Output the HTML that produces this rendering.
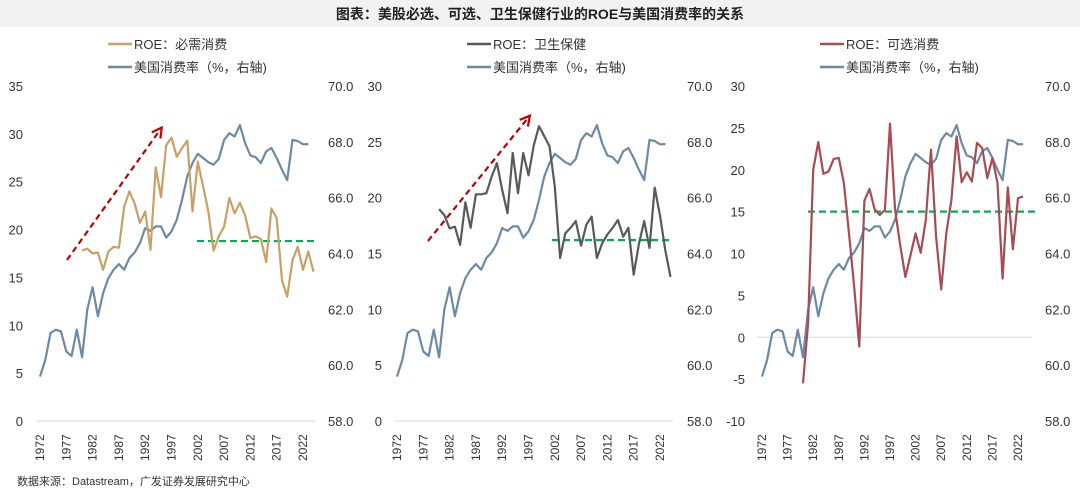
<!DOCTYPE html>
<html><head><meta charset="utf-8">
<style>
body{margin:0;background:#fff;width:1080px;height:489px;overflow:hidden;font-family:"Liberation Sans","Noto Sans CJK SC",sans-serif;}
svg text{font-family:"Liberation Sans","Noto Sans CJK SC",sans-serif;}
</style></head>
<body>
<svg id="c" width="1080" height="489" xmlns="http://www.w3.org/2000/svg">
<rect x="0" y="0" width="1080" height="27" fill="#f2f2f2"/>
<text x="540" y="19" text-anchor="middle" font-size="14" font-weight="bold" fill="#222">图表：美股必选、可选、卫生保健行业的ROE与美国消费率的关系</text>
<text x="17" y="485" font-size="11" fill="#333">数据来源：Datastream，广发证券发展研究中心</text>
</svg>
<script>
const rateYears0 = 1972;
const consRate = [59.59,60.19,61.15,61.27,61.21,60.49,60.33,61.27,60.28,61.99,62.79,61.75,62.58,63.12,63.42,63.62,63.42,63.84,64.04,64.37,64.91,64.81,64.97,64.97,64.57,64.79,65.21,65.92,66.76,67.24,67.57,67.42,67.27,67.18,67.39,68.07,68.31,68.19,68.60,67.95,67.51,67.45,67.24,67.66,67.78,67.42,67.0,66.63,68.07,68.03,67.91,67.92];
const roeYears0 = 1980;
const roeStaples = [17.8,18.0,17.5,17.6,15.8,17.7,18.2,18.1,22.4,24.0,22.7,20.7,21.9,17.9,26.5,23.4,28.8,29.6,27.6,28.5,29.3,21.9,27.1,24.5,21.9,17.8,19.3,20.3,23.3,21.7,22.8,21.5,19.1,19.3,19.0,16.6,22.2,21.2,14.7,13.0,16.8,18.2,15.8,17.7,15.6];
const roeHealth = [18.96,18.45,17.25,17.4,15.76,19.58,17.3,20.3,20.3,20.4,21.9,23.1,20.7,18.6,24.0,20.4,24.0,22.0,24.7,26.4,25.5,24.6,21.0,14.6,16.8,17.3,17.9,15.7,17.6,18.3,14.6,15.9,16.7,17.3,18.0,16.5,17.3,13.1,15.9,17.9,15.5,20.9,18.4,15.3,12.9];
const roeDiscr = [-5.5,1.7,20.0,23.3,19.5,19.8,21.3,21.4,18.4,12.4,6.0,-1.1,16.3,17.7,15.3,14.6,15.2,25.5,15.2,11.0,7.2,9.8,12.4,10.1,14.0,22.4,12.0,5.7,12.4,16.4,24.0,18.5,19.7,18.6,23.2,22.6,19.0,21.4,18.4,7.0,17.9,10.5,16.6,16.8];
const yearTicks = ["1972","1977","1982","1987","1992","1997","2002","2007","2012","2017","2022"];
const leftTicksA = [0,5,10,15,20,25,30,35];
const leftTicksB = [0,5,10,15,20,25,30];
const leftTicksC = [-10,-5,0,5,10,15,20,25,30];
const rightTicks = [58,60,62,64,66,68,70];
const avgStaples = 18.8, avgHealth = 16.2, avgDiscr = 15.0;

const NS = "http://www.w3.org/2000/svg";
const svg = document.getElementById('c');
function mk(tag, attrs){const e=document.createElementNS(NS,tag);for(const k in attrs)e.setAttribute(k,attrs[k]);svg.appendChild(e);return e;}

const panels = [
 {key:'staples',x0:40,dx:5.26,lmin:0,lmax:35,ticks:leftTicksA,roe:roeStaples,col:'#c9a066',label:'ROE：必需消费',lx:23,rx:328,base:[37,315],zero:null,avg:avgStaples,avgX:[197,318],arrow:[67,260,160,130],legX:108},
 {key:'health',x0:397,dx:5.26,lmin:0,lmax:30,ticks:leftTicksB,roe:roeHealth,col:'#595959',label:'ROE：卫生保健',lx:382,rx:687,base:[395,673],zero:null,avg:avgHealth,avgX:[552,673],arrow:[428,241,528,118],legX:467},
 {key:'discr',x0:762,dx:5.12,lmin:-10,lmax:30,ticks:leftTicksC,roe:roeDiscr,col:'#a94b55',label:'ROE：可选消费',lx:745,rx:1045,base:[757,1032],zero:0,avg:avgDiscr,avgX:[808,1039],arrow:null,legX:820}
];
const TOP=86, BOT=421;
panels.forEach(p=>{
  const yL=v=>BOT-(v-p.lmin)/(p.lmax-p.lmin)*(BOT-TOP);
  const yR=v=>BOT-(v-58)/12*(BOT-TOP);
  const xY=y=>p.x0+(y-1972)*p.dx;
  // baseline / zero line
  const bl = mk('line',{x1:p.base[0],x2:p.base[1],y1:p.zero===null?BOT:yL(0),y2:p.zero===null?BOT:yL(0),stroke:'#d9d9d9','stroke-width':1});
  
  
  p.ticks.forEach(t=>{
    const e=mk('text',{x:p.lx,y:yL(t)+5,'text-anchor':'end','font-size':13,fill:'#333'});e.textContent=t;
    
    
  });
  rightTicks.forEach(t=>{
    const e=mk('text',{x:p.rx,y:yR(t)+5,'font-size':13,fill:'#333'});e.textContent=t.toFixed(1);
    
    
  });
  yearTicks.forEach(t=>{
    const x=xY(+t);
    const e=mk('text',{x:0,y:0,transform:`translate(${x+4},461) rotate(-90)`,'font-size':12,fill:'#333'});e.textContent=t;
    
    
  });
  // avg line
  const av=mk('line',{x1:p.avgX[0],x2:p.avgX[1],y1:yL(p.avg),y2:yL(p.avg),stroke:'#00b050','stroke-width':2.2,'stroke-dasharray':'7,4'});
  
  
  // consumption line
  const pr=consRate.map((v,i)=>xY(rateYears0+i).toFixed(1)+','+yR(v).toFixed(1)).join(' ');
  const cl=mk('polyline',{points:pr,fill:'none',stroke:'#6d8aa4','stroke-width':2.2,'stroke-linejoin':'round'});
  
  
  const rp=p.roe.map((v,i)=>xY(roeYears0+i).toFixed(1)+','+yL(v).toFixed(1)).join(' ');
  const rl=mk('polyline',{points:rp,fill:'none',stroke:p.col,'stroke-width':2.2,'stroke-linejoin':'round'});
  
  
  if(p.arrow){
    const a=p.arrow;
    const al=mk('line',{x1:a[0],y1:a[1],x2:a[2],y2:a[3],stroke:'#c00000','stroke-width':2.2,'stroke-dasharray':'6,4'});
    
    
    const ang=Math.atan2(a[3]-a[1],a[2]-a[0]);
    const hx=a[2]+3*Math.cos(ang),hy=a[3]+3*Math.sin(ang);
    const p1=[hx-11*Math.cos(ang-0.5),hy-11*Math.sin(ang-0.5)],p2=[hx-11*Math.cos(ang+0.5),hy-11*Math.sin(ang+0.5)];
    const ah=mk('polyline',{points:`${p1} ${hx},${hy} ${p2}`,fill:'none',stroke:'#c00000','stroke-width':2.2});
    
    
  }
  // legend
  const l1=mk('line',{x1:p.legX,x2:p.legX+24,y1:44,y2:44,stroke:p.col,'stroke-width':2.5});
  
  
  const t1=mk('text',{x:p.legX+26,y:49,'font-size':13,fill:'#333'});t1.textContent=p.label;
  
  
  const l2=mk('line',{x1:p.legX,x2:p.legX+24,y1:67,y2:67,stroke:'#6d8aa4','stroke-width':2.5});
  
  
  const t2=mk('text',{x:p.legX+26,y:72,'font-size':13,fill:'#333'});t2.textContent='美国消费率（%，右轴)';
  
  
});
</script>
</body></html>
